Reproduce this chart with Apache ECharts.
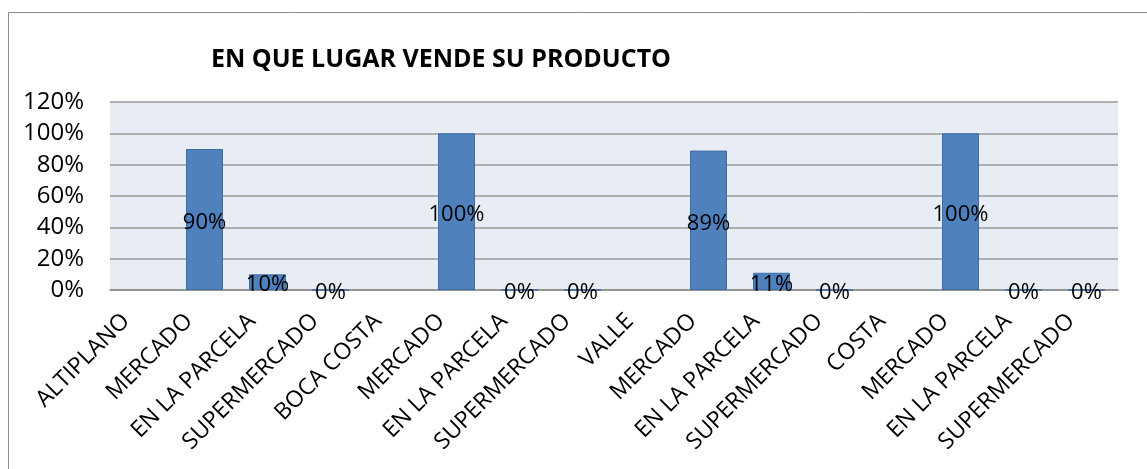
<!DOCTYPE html>
<html>
<head>
<meta charset="utf-8">
<script src="https://cdn.jsdelivr.net/npm/echarts@6/dist/echarts.min.js"></script>
<style>
  html, body { margin: 0; padding: 0; background: #fff; }
  #chart { width: 1147px; height: 469px; }
</style>
</head>
<body>
<div id="chart"></div>
<script>
// categories along the x axis (region headers + places of sale)
const categories = [
  'ALTIPLANO', 'MERCADO', 'EN LA PARCELA', 'SUPERMERCADO',
  'BOCA COSTA', 'MERCADO', 'EN LA PARCELA', 'SUPERMERCADO',
  'VALLE', 'MERCADO', 'EN LA PARCELA', 'SUPERMERCADO',
  'COSTA', 'MERCADO', 'EN LA PARCELA', 'SUPERMERCADO'
];
// share of producers, region headers have no value
const shares = [
  null, 0.90, 0.10, 0,
  null, 1.00, 0, 0,
  null, 0.89, 0.11, 0,
  null, 1.00, 0, 0
];
const yTicks = [0, 0.2, 0.4, 0.6, 0.8, 1.0, 1.2];

const font = 'Open Sans';
const chart = echarts.init(document.getElementById('chart'));

chart.setOption({
  animation: false,
  backgroundColor: '#fff',
  title: {
    text: 'EN QUE LUGAR VENDE SU PRODUCTO',
    left: 211,
    top: 47,
    padding: 0,
    textStyle: { fontFamily: font, fontSize: 25, fontWeight: 'bold', color: '#000' }
  },
  graphic: [{
    type: 'rect',
    shape: { x: 8.5, y: 12.5, width: 1300, height: 600 },
    style: { fill: null, stroke: '#8c8c8c', lineWidth: 1 },
    silent: true
  }],
  grid: {
    left: 110,
    right: 29,
    top: 102,
    bottom: 179,
    show: true,
    backgroundColor: '#e8ecf4',
    borderWidth: 0
  },
  xAxis: {
    type: 'category',
    data: categories,
    axisLine: { lineStyle: { color: '#8c8c8c', width: 1.5 } },
    axisTick: { show: false },
    axisLabel: {
      interval: 0,
      rotate: 45,
      margin: 12,
      padding: [0, 22, 0, 0],
      fontFamily: font,
      fontSize: 23,
      color: '#000'
    }
  },
  yAxis: {
    type: 'value',
    min: yTicks[0],
    max: yTicks[yTicks.length - 1],
    interval: 0.2,
    axisLine: { show: false },
    axisTick: { show: false },
    splitLine: { lineStyle: { color: '#9a9a9a', width: 1.5 } },
    axisLabel: {
      margin: 26,
      fontFamily: font,
      fontSize: 24,
      color: '#000',
      formatter: v => Math.round(v * 100) + '%'
    }
  },
  series: [{
    type: 'bar',
    data: shares,
    barWidth: 37,
    itemStyle: { color: '#4f81bd', borderColor: '#3d6da6', borderWidth: 1 },
    label: {
      show: true,
      position: 'inside',
      offset: [0, 3],
      fontFamily: font,
      fontSize: 22,
      color: '#000',
      formatter: p => p.value == null ? '' : Math.round(p.value * 100) + '%'
    }
  }]
});
</script>
</body>
</html>
